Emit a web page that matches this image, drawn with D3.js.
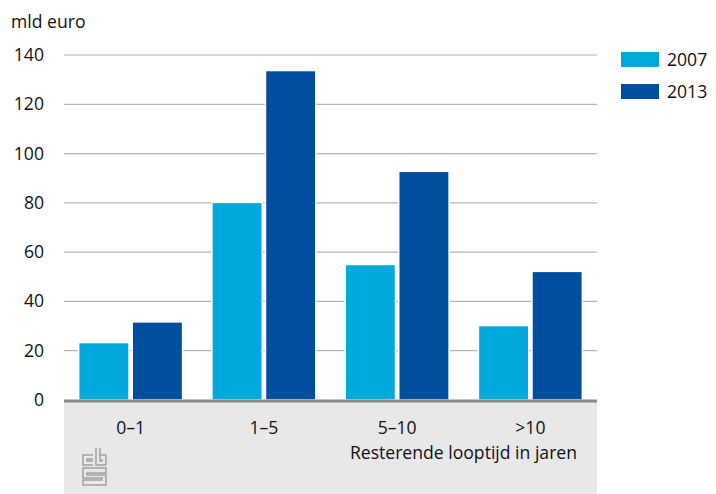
<!DOCTYPE html>
<html>
<head>
<meta charset="utf-8">
<script src="https://cdn.jsdelivr.net/npm/d3@7/dist/d3.min.js"></script>
<style>
  html, body { margin: 0; padding: 0; background: #fff; }
  svg { display: block; font-family: "Open Sans", "Noto Sans", sans-serif; }
</style>
</head>
<body>
<svg id="chart" width="716" height="494"></svg>
<script>
// Looptijd categories and amounts (mld euro)
const categories = ["0–1", "1–5", "5–10", ">10"];
const seriesNames = ["2007", "2013"];
const values2007 = [23.3, 80.2, 55, 30.2];
const values2013 = [31.7, 133.7, 92.8, 52.2];
const yTicks = [0, 20, 40, 60, 80, 100, 120, 140];
const colors = ["#00a9dc", "#004f9f"];

const svg = d3.select("#chart");
const plotLeft = 64, plotRight = 597, plotTop = 55, plotBottom = 400;
const fontSize = 17.6;

const x = d3.scaleBand().domain(categories).range([plotLeft, plotRight]).paddingInner(0.22).paddingOuter(0.11);
const xs = d3.scaleBand().domain(seriesNames).range([0, x.bandwidth()]).paddingInner(0.06);
const y = d3.scaleLinear().domain([0, 140]).range([plotBottom, plotTop]);

// grey band under the axis
svg.append("rect").attr("x", plotLeft).attr("y", plotBottom).attr("width", plotRight - plotLeft).attr("height", 494 - plotBottom).attr("fill", "#e8e8e8");

// gridlines
svg.append("g").selectAll("line").data(yTicks.filter(d => d > 0)).join("line")
  .attr("x1", plotLeft).attr("x2", plotRight)
  .attr("y1", d => y(d)).attr("y2", d => y(d))
  .attr("stroke", "#b4b4b4").attr("stroke-width", 1.2);

// y tick labels
svg.append("g").selectAll("text").data(yTicks).join("text")
  .attr("x", 44).attr("y", d => y(d) + 6)
  .attr("text-anchor", "end").attr("font-size", fontSize).attr("fill", "#111")
  .text(d => d);

svg.append("text").attr("x", 11).attr("y", 28).attr("font-size", fontSize).attr("fill", "#111").text("mld euro");

// bars
const rows = categories.map((c, i) => ({ cat: c, vals: [values2007[i], values2013[i]] }));
const groups = svg.append("g").selectAll("g").data(rows).join("g")
  .attr("transform", d => `translate(${x(d.cat)},0)`);
groups.selectAll("rect").data(d => d.vals.map((v, j) => ({ key: seriesNames[j], v, j }))).join("rect")
  .attr("x", d => xs(d.key)).attr("width", xs.bandwidth())
  .attr("y", d => y(d.v)).attr("height", d => y(0) - y(d.v))
  .attr("fill", d => colors[d.j])
  .attr("stroke", "#fff").attr("stroke-width", 1.5);

// axis line
svg.append("line").attr("x1", plotLeft).attr("x2", plotRight).attr("y1", plotBottom + 1).attr("y2", plotBottom + 1)
  .attr("stroke", "#8a8a8a").attr("stroke-width", 3);

// category labels
svg.append("g").selectAll("text").data(categories).join("text")
  .attr("x", d => x(d) + x.bandwidth() / 2).attr("y", 434)
  .attr("text-anchor", "middle").attr("font-size", fontSize).attr("fill", "#111")
  .text(d => d);

svg.append("text").attr("x", 577).attr("y", 459).attr("text-anchor", "end")
  .attr("font-size", fontSize).attr("fill", "#111").text("Resterende looptijd in jaren");

// legend
const legend = svg.append("g").selectAll("g").data(seriesNames).join("g")
  .attr("transform", (d, i) => `translate(621,${52 + i * 32})`);
legend.append("rect").attr("width", 38).attr("height", 15).attr("fill", (d, i) => colors[i]);
legend.append("text").attr("x", 46).attr("y", 14).attr("font-size", fontSize).attr("fill", "#111").text(d => d);

// cbs logo mark
const logo = svg.append("g").attr("transform", "translate(82,448)")
  .attr("fill", "none").attr("stroke", "#a0a0a0").attr("stroke-width", 1.5);
// "c"
logo.append("path").attr("d", "M11 7 H1 V17 H11 M11 11 H5 V13 H11");
// "b"
logo.append("path").attr("d", "M14 0 V17 H24 V7 H18 M18 0 V13 H20 V11");
// "s"
logo.append("path").attr("d", "M24 20 H1 V30 H20 V32 H1 V37 H24 V27 H5 V25 H24 Z");
</script>
</body>
</html>
